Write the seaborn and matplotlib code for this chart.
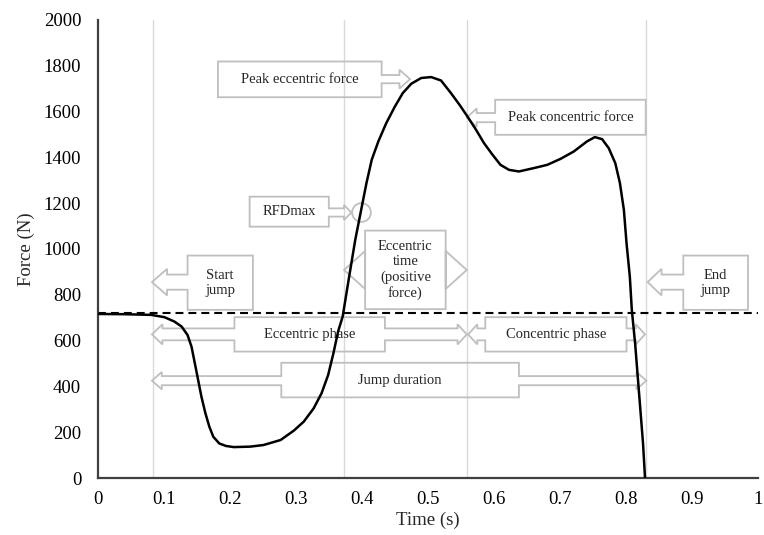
import matplotlib
matplotlib.use("Agg")
import matplotlib.pyplot as plt
import seaborn as sns
import pandas as pd
from matplotlib.patches import Polygon

# Force-time curve (s, N)
time_s = [0.000, 0.040, 0.081, 0.101, 0.116, 0.127, 0.136, 0.142, 0.147, 0.152,
          0.157, 0.163, 0.169, 0.175, 0.184, 0.194, 0.206, 0.231, 0.251, 0.277,
          0.297, 0.312, 0.327, 0.339, 0.349, 0.357, 0.364, 0.371, 0.380, 0.390,
          0.398, 0.407, 0.415, 0.425, 0.437, 0.450, 0.462, 0.475, 0.490, 0.505,
          0.520, 0.535, 0.548, 0.560, 0.573, 0.585, 0.598, 0.610, 0.623, 0.638,
          0.661, 0.681, 0.701, 0.721, 0.741, 0.753, 0.764, 0.774, 0.784, 0.791,
          0.797, 0.801, 0.806, 0.809, 0.814, 0.818, 0.822, 0.826, 0.829]
force_n = [716, 715, 712, 702, 683, 661, 624, 573, 501, 428,
           355, 283, 224, 180, 151, 140, 135, 137, 144, 166,
           207, 246, 304, 370, 450, 545, 639, 705, 865, 1039,
           1156, 1287, 1389, 1469, 1549, 1621, 1680, 1721, 1746, 1750,
           1735, 1680, 1629, 1578, 1520, 1462, 1411, 1367, 1345, 1338,
           1353, 1367, 1393, 1425, 1469, 1488, 1479, 1440, 1374, 1287,
           1170, 1025, 879, 734, 588, 442, 297, 151, 0]

body_weight = 720
event_times = [0.083, 0.373, 0.560, 0.831]
rfd_time = 0.398
rfd_force = 1160

x_ticks = [0, 0.1, 0.2, 0.3, 0.4, 0.5, 0.6, 0.7, 0.8, 0.9, 1]
x_tick_labels = ["0", "0.1", "0.2", "0.3", "0.4", "0.5", "0.6", "0.7", "0.8", "0.9", "1"]
y_ticks = list(range(0, 2001, 200))

sns.set_theme(style="white")
plt.rcParams["font.family"] = ["Liberation Serif", "DejaVu Serif"]

GRAY = "#bfbfbf"


def callout(ax, box, yc, left=None, right=None, text="", fs=10.5):
    """Arrow callout: box=(x0, x1, y0, y1); left/right=(tip, base, shaft_half, head_half)."""
    x0, x1, y0, y1 = box
    pts = [(x0, y1), (x1, y1)]
    if right:
        tip, base, sh, hh = right
        pts += [(x1, yc + sh), (base, yc + sh), (base, yc + hh), (tip, yc),
                (base, yc - hh), (base, yc - sh), (x1, yc - sh)]
    pts += [(x1, y0), (x0, y0)]
    if left:
        tip, base, sh, hh = left
        pts += [(x0, yc - sh), (base, yc - sh), (base, yc - hh), (tip, yc),
                (base, yc + hh), (base, yc + sh), (x0, yc + sh)]
    ax.add_patch(Polygon(pts, closed=True, fill=False, edgecolor=GRAY,
                         linewidth=1.3, zorder=3))
    ax.text((x0 + x1) / 2, (y0 + y1) / 2, text, ha="center", va="center",
            fontsize=fs, linespacing=1.2, zorder=4)


fig, ax = plt.subplots(figsize=(7.64, 5.35), dpi=100)
fig.subplots_adjust(left=0.128, right=0.992, bottom=0.1065, top=0.963)

for t in event_times:
    ax.axvline(t, color="#d9d9d9", linewidth=1.0, zorder=1)

ax.axhline(body_weight, color="black", linewidth=1.5, dashes=(3.8, 2.4), zorder=2)

df = pd.DataFrame({"Time (s)": time_s, "Force (N)": force_n})
sns.lineplot(data=df, x="Time (s)", y="Force (N)", sort=False, color="black",
             linewidth=1.8, ax=ax, zorder=5)

ax.plot([rfd_time], [rfd_force], "o", mfc="none", mec=GRAY, ms=13.5, mew=1.3, zorder=3)

# callouts
callout(ax, (0.136, 0.235, 734, 971), 855, left=(0.082, 0.105, 33, 58), text="Start\njump")
callout(ax, (0.887, 0.985, 734, 971), 855, left=(0.833, 0.854, 33, 58), text="End\njump")
callout(ax, (0.207, 0.435, 552, 702), 627, left=(0.082, 0.098, 26, 44),
        right=(0.559, 0.545, 26, 44), text="Eccentric phase")
callout(ax, (0.587, 0.801, 552, 702), 627, left=(0.561, 0.575, 26, 44),
        right=(0.829, 0.815, 26, 44), text="Concentric phase")
callout(ax, (0.278, 0.638, 352, 503), 425, left=(0.082, 0.097, 20, 38),
        right=(0.831, 0.816, 20, 38), text="Jump duration")
callout(ax, (0.405, 0.527, 737, 1080), 908, left=(0.373, 0.405, 0, 83),
        right=(0.559, 0.527, 0, 83), text="Eccentric\ntime\n(positive\nforce)")
callout(ax, (0.230, 0.350, 1097, 1228), 1159, right=(0.384, 0.373, 18, 33), text="RFDmax")
callout(ax, (0.182, 0.430, 1662, 1818), 1741, right=(0.473, 0.457, 18, 41),
        text="Peak eccentric force")
callout(ax, (0.602, 0.830, 1498, 1651), 1573, left=(0.559, 0.574, 20, 40),
        text="Peak concentric force")

ax.set_xlim(0, 1)
ax.set_ylim(0, 2000)
ax.set_xticks(x_ticks)
ax.set_xticklabels(x_tick_labels)
ax.set_yticks(y_ticks)
ax.tick_params(axis="both", length=0, labelsize=13.5, colors="black")
ax.tick_params(axis="x", pad=9)
ax.tick_params(axis="y", pad=12)
ax.set_xlabel("Time (s)", fontsize=13.5, labelpad=3)
ax.set_ylabel("Force (N)", fontsize=13.5, labelpad=6)

sns.despine(ax=ax)
for side in ("left", "bottom"):
    ax.spines[side].set_color("#404040")
    ax.spines[side].set_linewidth(1.6)

fig.savefig("out.png", dpi=100)
